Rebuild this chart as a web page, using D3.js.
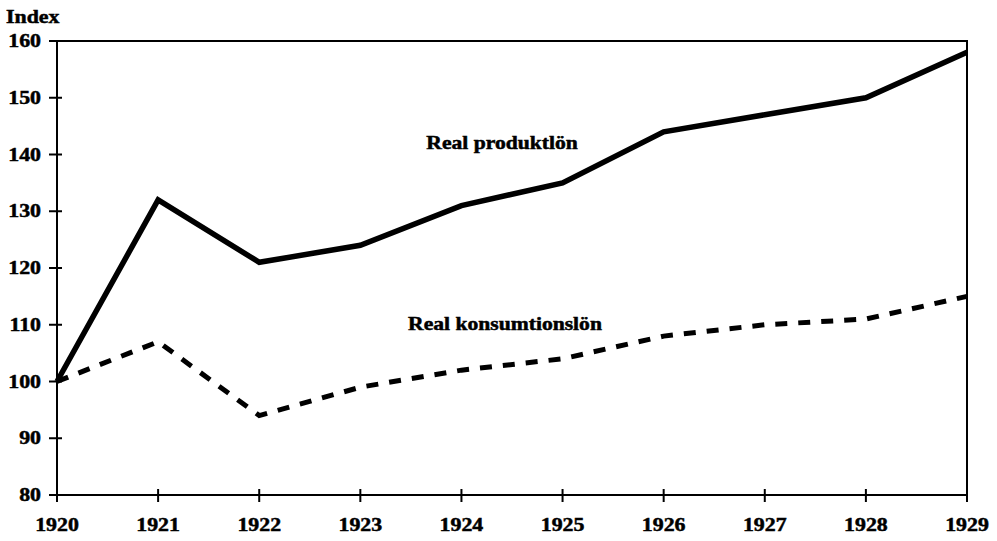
<!DOCTYPE html>
<html><head><meta charset="utf-8">
<script src="https://cdnjs.cloudflare.com/ajax/libs/d3/7.8.5/d3.min.js"></script>
<style>body{margin:0;background:#fff}svg{display:block}</style>
</head><body>
<script>
const years = [1920,1921,1922,1923,1924,1925,1926,1927,1928,1929];
const produktlon = [100,132,121,124,131,135,144,147,150,158];
const konsumtionslon = [100,107,94,99,102,104,108,110,111,115];
const yTicks = [80,90,100,110,120,130,140,150,160];
const seriesLabels = ["Real produktlön","Real konsumtionslön"];
const yTitle = "Index";

const W=997,H=541;
const m={l:57,r:30,t:41,b:46};
const svg=d3.select("body").append("svg").attr("width",W).attr("height",H);
const x=d3.scaleLinear().domain([1920,1929]).range([m.l,W-m.r]);
const y=d3.scaleLinear().domain([80,160]).range([H-m.b,m.t]);
const font="'Liberation Serif','Times New Roman',serif";
function txt(g,tx,ty,s,anchor,size,sx){
  return g.append("text").attr("transform",`translate(${tx},${ty}) scale(${sx||1.15},1)`)
   .attr("text-anchor",anchor).attr("font-family",font).attr("font-weight","bold")
   .attr("font-size",size).attr("fill","#000").attr("stroke","#000").attr("stroke-width",0.5).text(s);
}
// frame
svg.append("rect").attr("x",x(1920)).attr("y",y(160)).attr("width",x(1929)-x(1920)).attr("height",y(80)-y(160))
  .attr("fill","none").attr("stroke","#000").attr("stroke-width",2);
// ticks
const ga=svg.append("g");
yTicks.forEach(v=>{
  ga.append("line").attr("x1",x(1920)-8).attr("x2",x(1920)+5).attr("y1",y(v)).attr("y2",y(v)).attr("stroke","#000").attr("stroke-width",2);
  txt(ga,41,y(v)+6,v,"end","19px");
});
years.forEach(v=>{
  ga.append("line").attr("x1",x(v)).attr("x2",x(v)).attr("y1",y(80)-6).attr("y2",y(80)+7).attr("stroke","#000").attr("stroke-width",2);
  txt(ga,x(v),y(80)+36,v,"middle","19px");
});
txt(svg,6,23,yTitle,"start","19px");
const line=d3.line().x((d,i)=>x(years[i])).y(d=>y(d));
svg.append("path").datum(produktlon).attr("d",line).attr("fill","none").attr("stroke","#000").attr("stroke-width",5.5).attr("stroke-linejoin","miter");
svg.append("path").datum(konsumtionslon).attr("d",line).attr("fill","none").attr("stroke","#000").attr("stroke-width",5).attr("stroke-dasharray","12,11");
txt(svg,502,149,seriesLabels[0],"middle","18px",1.2);
txt(svg,505,330,seriesLabels[1],"middle","18px",1.2);
</script>
</body></html>
